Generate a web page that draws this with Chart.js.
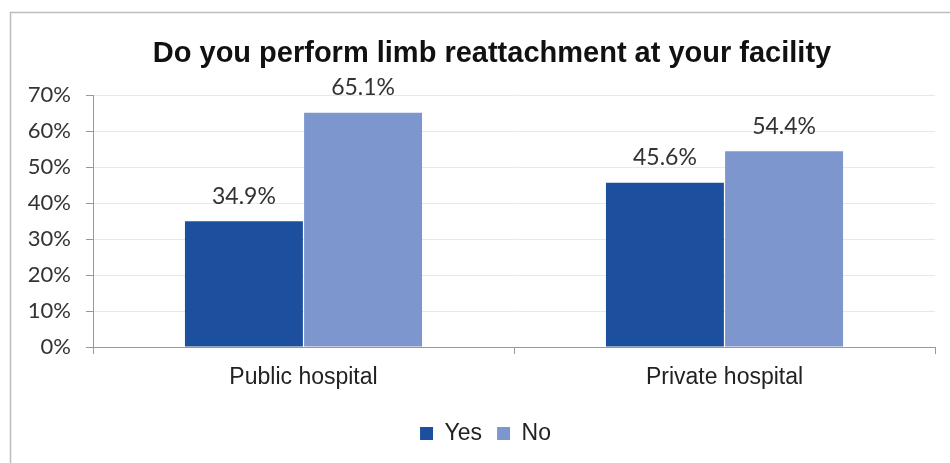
<!DOCTYPE html>
<html>
<head>
<meta charset="utf-8">
<script src="https://cdn.jsdelivr.net/npm/chart.js@4/dist/chart.umd.min.js"></script>
<style>
  body { margin: 0; background: #fff; }
  canvas { display: block; }
</style>
</head>
<body>
<canvas id="myChart" width="950" height="463"></canvas>
<script>
// data
var categories = ['Public hospital', 'Private hospital']
var seriesNames = ['Yes', 'No']
var yesValues = [34.9, 45.6]
var noValues = [65.1, 54.4]
var yTicks = [0, 10, 20, 30, 40, 50, 60, 70]

//frame lines, and nudge title/legend right a bit like the original
var framePlugin = {
	id: 'frame',
	afterLayout: function (chart) {
		if (chart.titleBlock) {
			chart.titleBlock.left += 49
		}
		if (chart.legend) {
			chart.legend.left += 36
		}
	},
	beforeDraw: function (chart) {
		var ctx = chart.ctx
		ctx.save()
		ctx.fillStyle = '#fff'
		ctx.fillRect(0, 0, chart.width, chart.height)
		ctx.strokeStyle = '#bdbdbd'
		ctx.lineWidth = 1.5
		ctx.beginPath()
		ctx.moveTo(10.5, chart.height)
		ctx.lineTo(10.5, 12.5)
		ctx.lineTo(chart.width, 12.5)
		ctx.stroke()
		ctx.restore()
	}
}

//value labels above bars
var valueLabels = {
	id: 'valueLabels',
	afterDatasetsDraw: function (chart) {
		var ctx = chart.ctx
		ctx.save()
		ctx.font = '23px Lato, "Open Sans", sans-serif'
		ctx.fillStyle = '#333'
		ctx.textAlign = 'center'
		ctx.textBaseline = 'middle'
		chart.data.datasets.forEach(function (ds, i) {
			chart.getDatasetMeta(i).data.forEach(function (bar, j) {
				ctx.fillText(ds.data[j].toFixed(1) + '%', bar.x, bar.y - 25)
			})
		})
		ctx.restore()
	}
}

var myChart = new Chart(document.getElementById('myChart'), {
	type: 'bar',
	data: {
		labels: categories,
		datasets: [{
			label: seriesNames[0],
			data: yesValues,
			backgroundColor: '#1D4F9F',
		}, {
			label: seriesNames[1],
			data: noValues,
			backgroundColor: '#7E96CE',
		}]
	},
	options: {
		responsive: false,
		animation: false,
		devicePixelRatio: 1,
		categoryPercentage: 0.566,
		barPercentage: 0.99,
		layout: { padding: { left: 0, right: 15, top: 0, bottom: 8 } },
		plugins: {
			title: {
				display: true,
				text: 'Do you perform limb reattachment at your facility',
				color: '#111',
				font: { family: '"Liberation Sans", Arial, sans-serif', size: 29, weight: 'bold' },
				padding: { top: 36.5, bottom: 23.7 }
			},
			legend: {
				position: 'bottom',
				labels: {
					color: '#222',
					font: { family: '"Liberation Sans", Arial, sans-serif', size: 23 },
					boxWidth: 13,
					boxHeight: 13,
					padding: 15
				}
			},
			tooltip: { enabled: false }
		},
		scales: {
			x: {
				grid: { drawOnChartArea: false, tickLength: 7, tickColor: '#999', offset: true },
				border: { color: '#999' },
				ticks: {
					color: '#222',
					padding: 10,
					font: { family: '"Liberation Sans", Arial, sans-serif', size: 23 }
				},
				afterFit: function (scale) { scale.height = 60 }
			},
			y: {
				min: yTicks[0],
				max: yTicks[yTicks.length - 1],
				afterBuildTicks: function (scale) {
					scale.ticks = yTicks.map(function (v) { return { value: v } })
				},
				grid: { color: '#e8e8e8', tickLength: 7, tickColor: '#999' },
				border: { color: '#999' },
				ticks: {
					color: '#333',
					padding: 15,
					font: { family: 'Lato, "Open Sans", sans-serif', size: 22 },
					callback: function (v) { return v + '%' }
				},
				afterFit: function (scale) { scale.width = 93 }
			}
		}
	},
	plugins: [framePlugin, valueLabels]
})
</script>
</body>
</html>
